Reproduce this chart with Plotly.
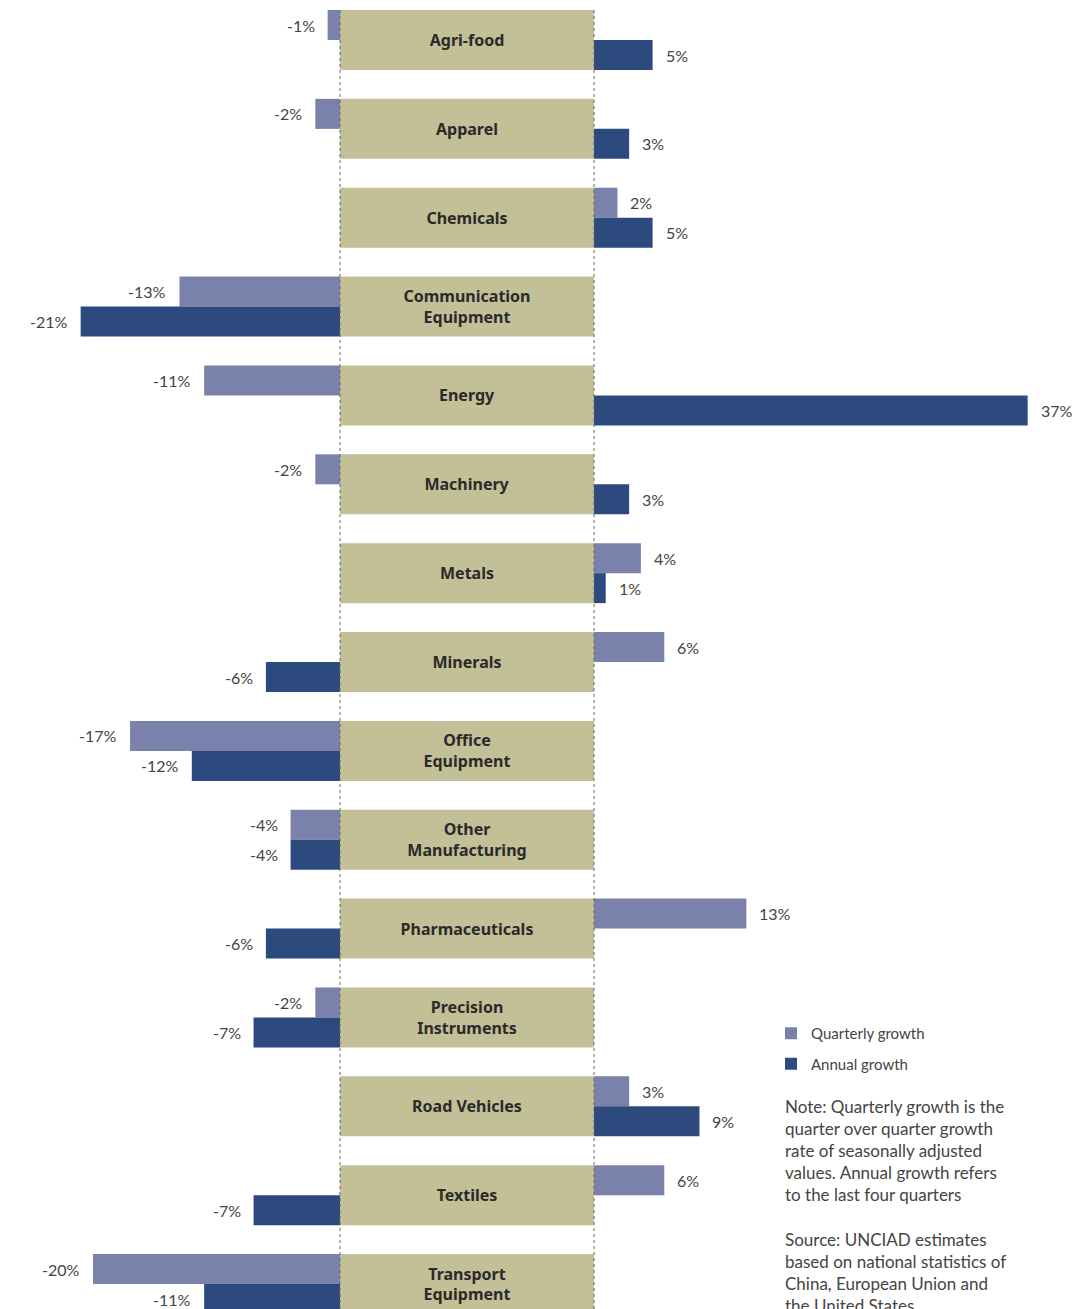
import plotly.graph_objects as go

categories = ["Agri-food", "Apparel", "Chemicals", "Communication<br>Equipment", "Energy",
              "Machinery", "Metals", "Minerals", "Office<br>Equipment", "Other<br>Manufacturing",
              "Pharmaceuticals", "Precision<br>Instruments", "Road Vehicles", "Textiles",
              "Transport<br>Equipment"]
quarterly = [-1, -2, 2, -13, -11, -2, 4, 6, -17, -4, 13, -2, 3, 6, -20]
annual = [5, 3, 5, -21, 37, 3, 1, -6, -12, -4, -6, -7, 9, -7, -11]

Q_COLOR = "#7a82ab"
A_COLOR = "#2c4a7e"
BOX_COLOR = "#c3bf96"
TXT = "#444444"
FONT = "Lato"
BOLD_FONT = "Noto Sans"

OFF = 8                      # page body margin
W, H = 1091 - OFF, 1309 - OFF
ROW = 88.86                  # px per category row
BAR_PX = 30                  # px per bar
half = BAR_PX / ROW          # bar thickness in row units

idx = list(range(len(categories)))
yq = [i - half / 2 for i in idx]
ya = [i + half / 2 for i in idx]

zl, zr = 340 - OFF, 594 - OFF
left_dom = [0, zl / W]
mid_dom = [zl / W, zr / W]
right_dom = [zr / W, 1]
left_range = [-zl / 12.35, 0]
right_range = [0, (W - zr) / 11.72]

top_center_px = 40 - OFF
y0 = -top_center_px / ROW
y1 = y0 + H / ROW

fig = go.Figure()

def split(vals, neg):
    return [v if (v < 0) == neg else None for v in vals]

for name, vals, ys, col in [("Quarterly growth", quarterly, yq, Q_COLOR),
                            ("Annual growth", annual, ya, A_COLOR)]:
    fig.add_trace(go.Bar(x=split(vals, True), y=ys, orientation="h", width=half,
                         marker=dict(color=col, line=dict(width=0)), xaxis="x", yaxis="y",
                         name=name, legendgroup=name, showlegend=True, hoverinfo="skip"))
    fig.add_trace(go.Bar(x=split(vals, False), y=ys, orientation="h", width=half,
                         marker=dict(color=col, line=dict(width=0)), xaxis="x3", yaxis="y",
                         name=name, legendgroup=name, showlegend=False, hoverinfo="skip"))
    for v, yy in zip(vals, ys):
        if v < 0:
            fig.add_annotation(x=v, y=yy, xref="x", yref="y", text=f"{v}%", showarrow=False,
                               xanchor="right", yanchor="middle", xshift=-11,
                               font=dict(family=FONT, size=16, color=TXT))
        else:
            fig.add_annotation(x=v, y=yy, xref="x3", yref="y", text=f"{v}%", showarrow=False,
                               xanchor="left", yanchor="middle", xshift=11,
                               font=dict(family=FONT, size=16, color=TXT))

# middle category boxes
fig.add_trace(go.Bar(x=[1] * len(categories), y=idx, orientation="h", width=2 * half,
                     marker=dict(color=BOX_COLOR, line=dict(width=0)), xaxis="x2", yaxis="y",
                     text=[f"<b>{c}</b>" for c in categories], textposition="inside",
                     insidetextanchor="middle", constraintext="none",
                     textfont=dict(family=BOLD_FONT, size=16, color="#2a2a2a"),
                     showlegend=False, hoverinfo="skip"))

axis_common = dict(showgrid=False, zeroline=False, showticklabels=False, ticks="", showline=False,
                   fixedrange=True)
fig.update_layout(
    width=W, height=H,
    margin=dict(l=0, r=0, t=0, b=0),
    paper_bgcolor="white", plot_bgcolor="white",
    barmode="overlay",
    xaxis=dict(domain=left_dom, range=left_range, anchor="y", **axis_common),
    xaxis2=dict(domain=mid_dom, range=[0, 1], anchor="y", **axis_common),
    xaxis3=dict(domain=right_dom, range=right_range, anchor="y", **axis_common),
    yaxis=dict(range=[y1, y0], **axis_common),
    legend=dict(x=763 / W, y=1 - 1009 / H, xanchor="left", yanchor="top",
                font=dict(family=FONT, size=15, color=TXT), bgcolor="rgba(0,0,0,0)",
                tracegroupgap=8, itemclick=False),
    font=dict(family=FONT),
)

for xd in (zl / W, zr / W):
    fig.add_shape(type="line", xref="paper", yref="paper", x0=xd, x1=xd, y0=0, y1=1,
                  line=dict(color="#666666", width=1, dash="dot"), layer="above")

note = ("Note: Quarterly growth is the<br>quarter over quarter growth<br>rate of seasonally adjusted<br>"
        "values. Annual growth refers<br>to the last four quarters<br><br>"
        "Source: UNCIAD estimates<br>based on national statistics of<br>"
        "China, European Union and<br>the United States")
fig.add_annotation(x=775 / W, y=1 - 1086 / H, xref="paper", yref="paper", text=note,
                   showarrow=False, xanchor="left", yanchor="top", align="left",
                   font=dict(family=FONT, size=17, color=TXT))

fig.write_html("out.html")
